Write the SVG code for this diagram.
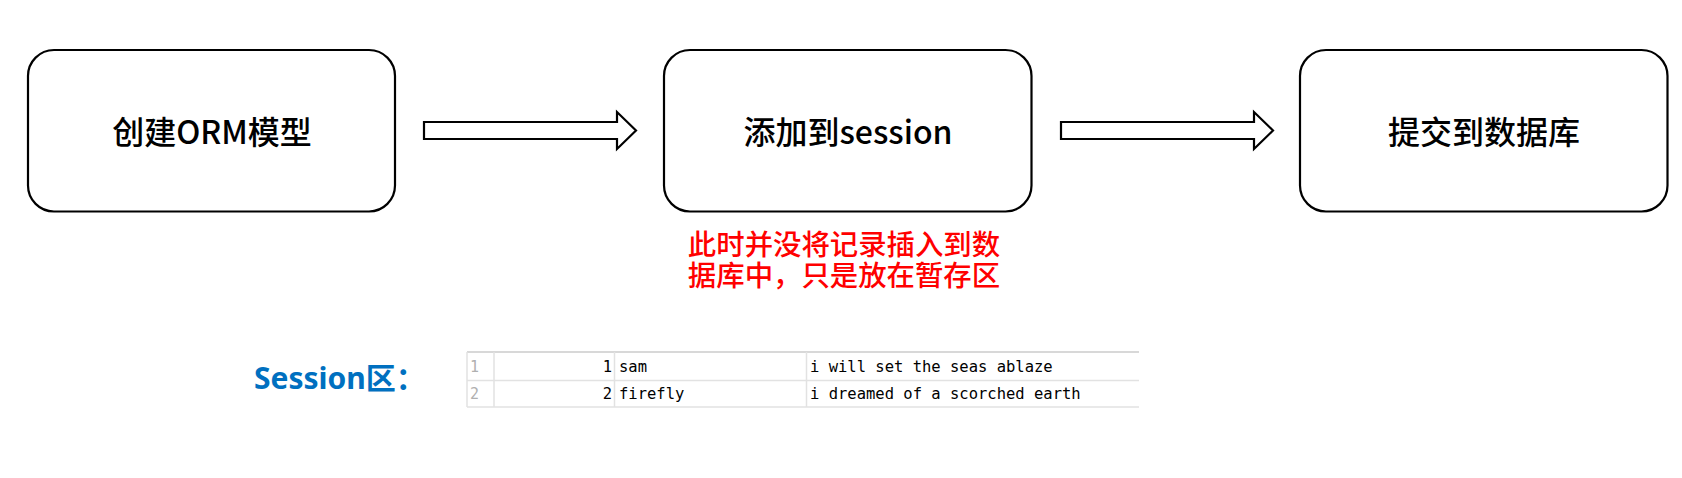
<svg xmlns="http://www.w3.org/2000/svg" width="1682" height="478" viewBox="0 0 1682 478">
<style>
.box{fill:#fff;stroke:#000;stroke-width:2.2}
.arrow{fill:#fff;stroke:#000;stroke-width:2.2;stroke-linejoin:miter}
.lbl{font-family:"Noto Sans CJK SC","Noto Sans",sans-serif;font-size:32px;font-weight:500;fill:#000;text-anchor:middle}
.note{font-family:"Noto Sans CJK SC","Noto Sans",sans-serif;font-size:28.4px;font-weight:500;fill:#ff0000;text-anchor:middle}
.sess{font-family:"Noto Sans","Noto Sans CJK SC",sans-serif;font-size:30px;font-weight:bold;fill:#0070c0}
.grid{stroke:#e2e2e2;stroke-width:1.5;fill:none}
.mono{font-family:"DejaVu Sans Mono","Liberation Mono",monospace;font-size:15.5px;fill:#000}
.rn{font-family:"DejaVu Sans Mono","Liberation Mono",monospace;font-size:15px;fill:#b0b0b0}
</style>
<rect width="1682" height="478" fill="#fff"/>
<g id="node-create">
<rect class="box" x="28" y="50" width="367" height="161.5" rx="26" ry="26"/>
<text class="lbl" x="212" y="144">创建ORM模型</text>
</g>
<g id="node-add">
<rect class="box" x="664" y="50" width="367.5" height="161.5" rx="26" ry="26"/>
<text class="lbl" x="848" y="144">添加到session</text>
</g>
<g id="node-commit">
<rect class="box" x="1300" y="50" width="367.5" height="161.5" rx="26" ry="26"/>
<text class="lbl" x="1484" y="144">提交到数据库</text>
</g>
<g id="connectors">
<path class="arrow" d="M424,122 H617 V112 L636,130.5 L617,149 V139 H424 Z"/>
<path class="arrow" d="M1061,122 H1254 V112 L1273,130.5 L1254,149 V139 H1061 Z"/>
</g>
<g id="note">
<text class="note"><tspan x="844" y="255">此时并没将记录插入到数</tspan><tspan x="844" y="286">据库中，只是放在暂存区</tspan></text>
</g>
<g id="session-label">
<text class="sess" x="254" y="388.5">Session区：</text>
</g>
<g id="session-table">
<line class="grid" x1="467" y1="352" x2="1139" y2="352" style="stroke:#d8d8d8;stroke-width:2"/>
<line class="grid" x1="467" y1="380.5" x2="1139" y2="380.5"/>
<line class="grid" x1="467" y1="407" x2="1139" y2="407"/>
<line class="grid" x1="467" y1="352" x2="467" y2="407"/>
<line class="grid" x1="494" y1="352" x2="494" y2="407"/>
<line class="grid" x1="614.5" y1="352" x2="614.5" y2="407"/>
<line class="grid" x1="806.5" y1="352" x2="806.5" y2="407"/>
<text class="rn" x="470" y="372">1</text>
<text class="rn" x="470" y="399">2</text>
<text class="mono" x="612" y="372" text-anchor="end">1</text>
<text class="mono" x="612" y="399" text-anchor="end">2</text>
<text class="mono" x="619" y="372">sam</text>
<text class="mono" x="619" y="399">firefly</text>
<text class="mono" x="810" y="372">i will set the seas ablaze</text>
<text class="mono" x="810" y="399">i dreamed of a scorched earth</text>
</g>
</svg>
